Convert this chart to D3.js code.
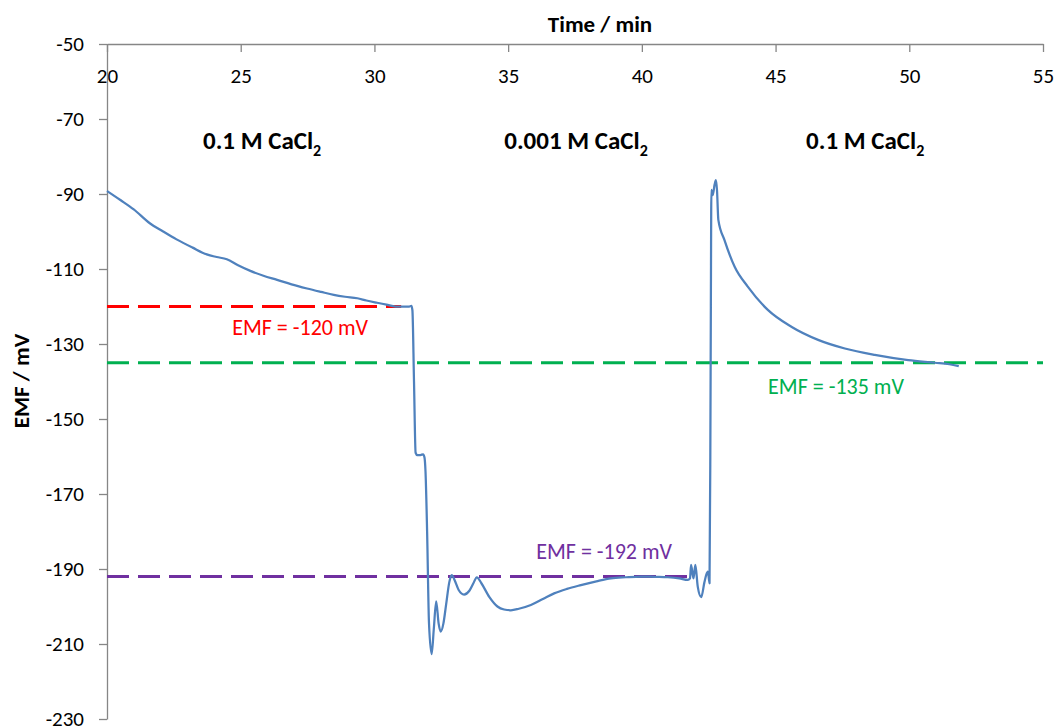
<!DOCTYPE html>
<html>
<head>
<meta charset="utf-8">
<script src="https://cdn.jsdelivr.net/npm/d3@7"></script>
<style>
  html, body { margin: 0; padding: 0; background: #fff; }
  svg { display: block; }
  text { font-family: Carlito, Lato, "Open Sans", "Liberation Sans", sans-serif; }
</style>
</head>
<body>
<svg id="chart" width="1054" height="727"></svg>
<script>
// ---- data ----
const timeMin = [
  20.00, 20.50, 21.00, 21.60, 22.10, 22.60, 23.20, 23.73, 24.10, 24.48,
  24.90, 25.36, 25.85, 26.36, 26.90, 27.48, 28.00, 28.48, 28.90, 29.36,
  29.70, 30.10, 30.45, 30.79, 31.10, 31.30, 31.38, 31.42, 31.48, 31.54,
  31.60, 31.72, 31.82, 31.87, 31.91, 31.97, 32.04, 32.14, 32.22, 32.31,
  32.40, 32.48, 32.58, 32.68, 32.80, 32.89, 33.00, 33.15, 33.35, 33.55,
  33.70, 33.83, 34.00, 34.30, 34.60, 34.85, 35.10, 35.40, 35.85, 36.30,
  36.72, 37.20, 37.72, 38.30, 38.85, 39.40, 39.97, 40.50, 40.97, 41.40,
  41.72, 41.80, 41.84, 41.93, 42.00, 42.09, 42.22, 42.34, 42.41, 42.47,
  42.53, 42.56, 42.58, 42.60, 42.65, 42.72, 42.77, 42.81, 42.86, 43.09,
  43.47, 43.96, 44.71, 45.59, 46.59, 47.59, 48.71, 49.96, 50.96, 51.50,
  51.85
];
const emfMv = [
  -89.2, -91.6, -94.1, -97.8, -100.0, -102.1, -104.3, -106.1, -106.8, -107.4,
  -109.0, -110.5, -111.8, -112.9, -114.1, -115.2, -116.1, -116.9, -117.4, -117.8,
  -118.4, -119.0, -119.5, -120.0, -120.0, -120.0, -119.8, -121.0, -140.0, -159.0,
  -159.6, -159.6, -159.4, -160.2, -164.0, -180.0, -204.4, -212.7, -206.0, -198.6,
  -204.5, -206.7, -204.5, -199.5, -193.5, -191.6, -193.0, -195.6, -196.8, -195.8,
  -193.8, -192.2, -193.8, -197.5, -200.0, -200.8, -201.0, -200.6, -199.6, -198.0,
  -196.5, -195.3, -194.3, -193.3, -192.5, -192.2, -192.0, -192.1, -192.2, -192.5,
  -192.9, -192.5, -188.9, -192.5, -188.9, -194.7, -197.5, -193.5, -191.5, -190.7,
  -193.8, -160.0, -120.0, -88.9, -90.3, -87.5, -86.3, -89.0, -96.9, -102.3,
  -109.4, -114.7, -120.9, -125.4, -128.9, -131.2, -132.9, -134.3, -135.0, -135.4,
  -135.9
];
const xTicks = [20, 25, 30, 35, 40, 45, 50, 55];
const yTicks = [-50, -70, -90, -110, -130, -150, -170, -190, -210, -230];

// reference EMF levels: value, start time, end time, label
const refValues = [-120, -135, -192];
const refStart = [20, 20, 20];
const refEnd = [31.0, 55, 42.0];
const refLabels = ["EMF = -120 mV", "EMF = -135 mV", "EMF = -192 mV"];
const refLabelTime = [27.22, 47.26, 38.59];
const refLabelEmf = [-125.5, -141.2, -185.2];
const refColors = ["#FF0000", "#00B050", "#7030A0"];

// solution annotations
const solNames = ["0.1 M CaCl", "0.001 M CaCl", "0.1 M CaCl"];
const solTime = [25.80, 37.54, 48.35];
const solEmf = [-78, -78, -78];

// ---- chart ----
const svg = d3.select("#chart");
const x = d3.scaleLinear().domain([20, 55]).range([107, 1043]);
const y = d3.scaleLinear().domain([-230, -50]).range([719, 44]);

const axisColor = "#868686";
const fmt = d => String(d);

// top x axis
const gx = svg.append("g").attr("transform", `translate(0,${y(-50)})`)
  .call(d3.axisBottom(x).tickValues(xTicks).tickFormat(fmt).tickSize(8).tickSizeOuter(0).tickPadding(16));
gx.select(".domain").attr("stroke", axisColor).attr("stroke-width", 1.3);
gx.selectAll(".tick line").attr("stroke", axisColor).attr("stroke-width", 1.3);
gx.selectAll(".tick text").attr("font-size", 21).attr("fill", "#000")
  .style("font-family", "Carlito, Lato, sans-serif");

// left y axis
const gy = svg.append("g").attr("transform", `translate(${x(20)},0)`)
  .call(d3.axisLeft(y).tickValues(yTicks).tickFormat(fmt).tickSize(8).tickSizeOuter(0).tickPadding(15));
gy.select(".domain").attr("stroke", axisColor).attr("stroke-width", 1.3);
gy.selectAll(".tick line").attr("stroke", axisColor).attr("stroke-width", 1.3);
gy.selectAll(".tick text").attr("font-size", 21).attr("fill", "#000")
  .style("font-family", "Carlito, Lato, sans-serif");

// axis titles
svg.append("text").attr("x", 600).attr("y", 32)
  .attr("text-anchor", "middle").attr("font-size", 23).attr("font-weight", "bold")
  .text("Time / min");
svg.append("text").attr("transform", `translate(29,381) rotate(-90)`)
  .attr("text-anchor", "middle").attr("font-size", 23).attr("font-weight", "bold")
  .text("EMF / mV");

// reference dashed lines
refValues.forEach((v, i) => {
  svg.append("line")
    .attr("x1", x(refStart[i])).attr("x2", x(refEnd[i]))
    .attr("y1", y(v)).attr("y2", y(v))
    .attr("stroke", refColors[i]).attr("stroke-width", 3)
    .attr("stroke-dasharray", "22,9");
});

// data line
const line = d3.line()
  .x((d, i) => x(timeMin[i]))
  .y((d, i) => y(emfMv[i]))
  .curve(d3.curveMonotoneX);
svg.append("path").datum(emfMv)
  .attr("d", line)
  .attr("fill", "none")
  .attr("stroke", "#4F81BD")
  .attr("stroke-width", 2.25)
  .attr("stroke-linejoin", "round");

// reference labels
refLabels.forEach((t, i) => {
  svg.append("text")
    .attr("x", x(refLabelTime[i])).attr("y", y(refLabelEmf[i]))
    .attr("text-anchor", "middle").attr("dominant-baseline", "central")
    .attr("font-size", 22).attr("fill", refColors[i])
    .text(t);
});

// solution labels
solNames.forEach((t, i) => {
  const tx = svg.append("text")
    .attr("x", x(solTime[i])).attr("y", y(solEmf[i]))
    .attr("text-anchor", "middle")
    .attr("font-size", 25).attr("font-weight", "bold").attr("fill", "#000");
  tx.append("tspan").text(t);
  tx.append("tspan").attr("font-size", 16).attr("dy", 7).text("2");
});
</script>
</body>
</html>
